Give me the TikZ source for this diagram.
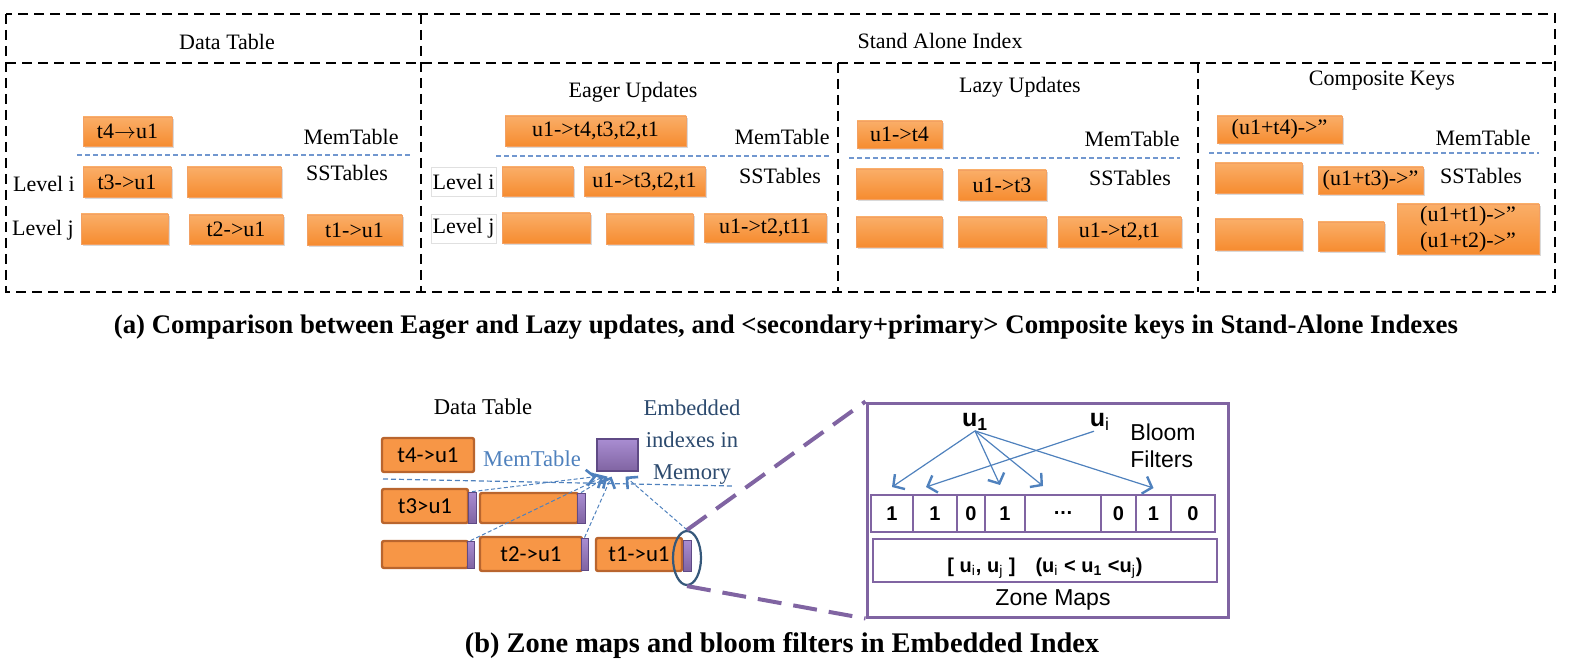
\documentclass[tikz,border=0pt]{standalone}
\usepackage{fontspec}
\setmainfont{Liberation Serif}
\newfontfamily\calib{Carlito}
\newfontfamily\arialf{Liberation Sans}
\usetikzlibrary{positioning,shapes.geometric,shadows,arrows.meta}
\definecolor{orT}{HTML}{FAAE68}
\definecolor{orB}{HTML}{F68C30}
\definecolor{orE}{HTML}{F3A062}
\definecolor{orM}{HTML}{F79646}
\definecolor{orD}{HTML}{B9652E}
\definecolor{puL}{HTML}{A98DD2}
\definecolor{puM}{HTML}{8064A2}
\definecolor{puD}{HTML}{5F4A85}
\definecolor{blueA}{HTML}{4F81BD}
\definecolor{blueL}{HTML}{7197CF}
\definecolor{slate}{HTML}{2C4A6E}
\definecolor{ellc}{HTML}{35587A}
\begin{document}
\begin{tikzpicture}[x=0.5pt,y=-0.5pt]
		\tikzstyle{frame}=[draw=black, line width=1.1pt, dash pattern=on 5pt off 3pt]
		\tikzstyle{lsm}=[inner sep=0pt, top color=orT, bottom color=orB, draw=orE, line width=0.4pt, drop shadow={shadow xshift=1.2pt, shadow yshift=-1.2pt, opacity=0.3}, font=\fontsize{11}{13}\selectfont]
		\tikzstyle{lbl}=[inner sep=0pt, font=\fontsize{11}{13}\selectfont]
		\tikzstyle{lvl}=[lbl, draw=black!12, line width=0.4pt, fill=white, minimum width=32.5pt, minimum height=14.5pt]
		\tikzstyle{memline}=[draw=blueL, line width=0.6pt, dash pattern=on 2.5pt off 1.5pt]
		\tikzstyle{run}=[inner sep=0pt, fill=orM, draw=orD, line width=1.2pt, rounded corners=1pt, font=\calib\fontsize{11.4}{13}\selectfont]
		\tikzstyle{zm}=[inner sep=0pt, top color=puL, bottom color=puM, draw=puD, line width=0.4pt]
		\tikzstyle{ptr}=[draw=blueA, line width=0.5pt, dash pattern=on 2pt off 1.2pt, -{Straight Barb[length=4pt, width=8pt, line width=1.3pt]}]
		\tikzstyle{zoomline}=[draw=puM, line width=2pt, dash pattern=on 12pt off 6pt]
		\tikzstyle{bit}=[draw=puM, line width=0.8pt, inner sep=0pt, outer sep=0pt, minimum height=18.5pt, font=\arialf\bfseries\fontsize{10}{11}\selectfont]
		\tikzstyle{bfarrow}=[draw=blueA, line width=0.6pt, -{Straight Barb[length=4pt, width=9pt, line width=1.2pt]}]
		\tikzstyle{caption}=[inner sep=0pt, font=\bfseries\fontsize{13.4}{16}\selectfont]
		\useasboundingbox (0,0) rectangle (1574,668);
		% (a) stand-alone indexes
		\draw[frame] (6,14) rectangle (1555,292);
		\draw[frame] (6,63) -- (1555,63);
		\draw[frame] (421,14) -- (421,292);
		\draw[frame] (838,63) -- (838,292);
		\draw[frame] (1198,63) -- (1198,292);
		\node [lbl] (dtitle) at (227,42) {Data Table};
		\node [lbl] (stitle) at (940,41) {Stand Alone Index};
		\node [lbl] (etitle) at (633,92) {Eager Updates};
		\node [lbl] (ltitle) at (1020,87) {Lazy Updates};
		\node [lbl] (ctitle) at (1382,81) {Composite Keys};
		% data table
		\node [lsm, minimum width=44.5pt, minimum height=14.5pt] (d4) at (127.5,131.5) {t4$\rightarrow$u1};
		\node [lsm, minimum width=44pt, minimum height=15pt] (d3) at (127,182) {t3->u1};
		\node [lsm, minimum width=47pt, minimum height=15pt] (db1) at (234,182) {};
		\node [lsm, minimum width=43.5pt, minimum height=15pt] (db2) at (124.5,229) {};
		\node [lsm, minimum width=47pt, minimum height=14.5pt] (d2) at (236,229.5) {t2->u1};
		\node [lsm, minimum width=47.5pt, minimum height=15pt] (d1) at (354.5,230) {t1->u1};
		\node [lbl] (dmem) at (351,137) {MemTable};
		\node [lbl] (dss) at (347,173) {SSTables};
		\node [lbl] (dli) at (44,184) {Level i};
		\node [lbl] (dlj) at (43,230) {Level j};
		\draw[memline] (77,155) -- (411,155);
		% eager updates
		\node [lsm, minimum width=90.5pt, minimum height=15pt] (e4) at (595.5,131) {u1->t4,t3,t2,t1};
		\node [lsm, minimum width=35.5pt, minimum height=14.5pt] (eb1) at (537.5,181.5) {};
		\node [lsm, minimum width=60.5pt, minimum height=14.5pt] (e3) at (644.5,181.5) {u1->t3,t2,t1};
		\node [lsm, minimum width=44pt, minimum height=15pt] (eb2) at (546,228) {};
		\node [lsm, minimum width=43.5pt, minimum height=15pt] (eb3) at (649.5,229) {};
		\node [lsm, minimum width=61pt, minimum height=14pt] (e2) at (765,228) {u1->t2,t11};
		\node [lvl] (eli) at (463.5,181.5) {Level i};
		\node [lvl] (elj) at (463.5,228.5) {Level j};
		\node [lbl] (emem) at (782,137) {MemTable};
		\node [lbl] (ess) at (780,176) {SSTables};
		\draw[memline] (496,156) -- (829,156);
		% lazy updates
		\node [lsm, minimum width=42.5pt, minimum height=13.5pt] (l4) at (899.5,134.5) {u1->t4};
		\node [lsm, minimum width=43pt, minimum height=15pt] (lb1) at (899,184) {};
		\node [lsm, minimum width=44pt, minimum height=15pt] (l3) at (1002,185) {u1->t3};
		\node [lsm, minimum width=43pt, minimum height=15pt] (lb2) at (899,232) {};
		\node [lsm, minimum width=44pt, minimum height=15pt] (lb3) at (1002,232) {};
		\node [lsm, minimum width=61.5pt, minimum height=15pt] (l2) at (1119.5,232) {u1->t2,t1};
		\node [lbl] (lmem) at (1132,139) {MemTable};
		\node [lbl] (lss) at (1130,178) {SSTables};
		\draw[memline] (849,158) -- (1180,158);
		% composite keys
		\node [lsm, minimum width=62.5pt, minimum height=13.5pt] (c4) at (1279.5,129.5) {(u1+t4)->”};
		\node [lsm, minimum width=43.5pt, minimum height=15pt] (cb1) at (1258.5,178) {};
		\node [lsm, minimum width=52.5pt, minimum height=13.5pt] (c3) at (1370.5,180.5) {(u1+t3)->”};
		\node [lsm, minimum width=43.5pt, minimum height=15.5pt] (cb2) at (1258.5,234.5) {};
		\node [lsm, minimum width=33pt, minimum height=14.5pt] (cb3) at (1351,236.5) {};
		\node [lsm, minimum width=71pt, minimum height=25pt, align=center] (c12) at (1468,229) {(u1+t1)->”\\(u1+t2)->”};
		\node [lbl] (cmem) at (1483,138) {MemTable};
		\node [lbl] (css) at (1481,176) {SSTables};
		\draw[memline] (1209,153) -- (1539,153);
		\node [caption] (capa) at (786,327) {(a) Comparison between Eager and Lazy updates, and <secondary+primary> Composite keys in Stand-Alone Indexes};
		% (b) embedded index
		\node [lbl, font=\fontsize{11.3}{13}\selectfont] (btitle) at (483,407) {Data Table};
		\node [run, minimum width=46pt, minimum height=17pt] (b4) at (428,455) {t4->u1};
		\node [lbl, text=blueA, font=\fontsize{11.3}{13}\selectfont] (bmem) at (532,459) {MemTable};
		\node [zm, minimum width=20.5pt, minimum height=16pt, line width=0.6pt] (sq) at (617.5,455) {};
		\node [lbl, text=slate, align=center, font=\fontsize{11.3}{16}\selectfont] (emb) at (692,442) {Embedded\\indexes in\\Memory};
		\coordinate (ml) at (383,479);
		\coordinate (mr) at (732,486);
		\draw[memline, draw=blueA] (ml) -- (mr);
		\node [run, minimum width=43pt, minimum height=17pt] (b3) at (425,506) {t3>u1};
		\node [run, minimum width=49pt, minimum height=15pt] (bb1) at (529,508) {};
		\node [run, minimum width=43pt, minimum height=13.5pt] (bb2) at (425,554.5) {};
		\node [run, minimum width=51pt, minimum height=17pt] (b2) at (531,554) {t2->u1};
		\node [run, minimum width=43pt, minimum height=16.5pt] (b1) at (639,554.5) {t1->u1};
		\node [zm, minimum width=4pt, minimum height=15.5pt] (z3) at (472,507.5) {};
		\node [zm, minimum width=4pt, minimum height=15pt] (zb1) at (581,508) {};
		\node [zm, minimum width=3.5pt, minimum height=13.5pt] (zb2) at (470.5,554.5) {};
		\node [zm, minimum width=3.5pt, minimum height=16pt] (z2) at (584.5,554) {};
		\node [zm, minimum width=4pt, minimum height=15.5pt] (z1) at (687,555.5) {};
		\node [ellipse, draw=ellc, line width=1.1pt, minimum width=14pt, minimum height=27pt, inner sep=0pt] (ell) at (687,558) {};
		\draw[ptr] (z3.north) -- ([yshift=-2.5pt]sq.south west);
		\draw[ptr] (zb1.north) -- ([xshift=-5pt,yshift=-2.5pt]sq.south);
		\draw[ptr] (zb2.north) -- ([xshift=-7pt,yshift=-2.5pt]sq.south);
		\draw[ptr] (z2.north) -- ([xshift=-3pt,yshift=-2.5pt]sq.south);
		\draw[ptr] (ell.north) -- ([xshift=4pt,yshift=-2.5pt]sq.south);
		% zoomed view
		\node [draw=puM, line width=1.5pt, minimum width=180.5pt, minimum height=107pt, inner sep=0pt] (zbox) at (1047.5,510) {};
		\draw[zoomline] (ell.north) -- (zbox.north west);
		\draw[zoomline] (ell.south) -- (zbox.south west);
		\node [bit, minimum width=21pt, anchor=west] (c1) at (871,513.5) {1};
		\node [bit, minimum width=22pt, right=0pt of c1] (c2) {1};
		\node [bit, minimum width=14pt, right=0pt of c2] (c3) {0};
		\node [bit, minimum width=20pt, right=0pt of c3] (c4) {1};
		\node [bit, minimum width=38pt, right=0pt of c4] (c5) {…};
		\node [bit, minimum width=17.5pt, right=0pt of c5] (c6) {0};
		\node [bit, minimum width=17.5pt, right=0pt of c6] (c7) {1};
		\node [bit, minimum width=22pt, right=0pt of c7] (c8) {0};
		\node [draw=puM, line width=1.2pt, minimum width=172pt, minimum height=21.5pt, inner sep=0pt] (zmap) at (1045,560.5) {};
		\node [inner sep=0pt, font=\arialf\bfseries\fontsize{10}{11}\selectfont] (zmtxt) at (1045,568) {[ u\textsubscript{\mdseries i}, u\textsubscript{\mdseries j} ]\quad(u\textsubscript{\mdseries i} < u\textsubscript{1} <u\textsubscript{\mdseries j})};
		\node [inner sep=0pt, font=\arialf\fontsize{11.5}{13}\selectfont] (zmname) at (1053,600) {Zone Maps};
		\node [inner sep=0pt, font=\arialf\bfseries\fontsize{12.5}{14}\selectfont] (uone) at (975,422) {u\textsubscript{1}};
		\node [inner sep=0pt, font=\arialf\bfseries\fontsize{12.5}{14}\selectfont] (ui) at (1100,422) {u\textsubscript{\mdseries i}};
		\node [inner sep=0pt, anchor=west, align=left, font=\arialf\fontsize{11.5}{13.5}\selectfont] (bloom) at (1130,446) {Bloom\\Filters};
		\draw[bfarrow] (uone.south) -- ([yshift=4pt]c1.north);
		\draw[bfarrow] (uone.south) -- ([xshift=-2.5pt,yshift=5pt]c4.north);
		\draw[bfarrow] (uone.south) -- ([xshift=-10pt,yshift=4.5pt]c5.north);
		\draw[bfarrow] (uone.south) -- ([yshift=3.5pt]c7.north);
		\draw[bfarrow] ([xshift=-3pt]ui.south) -- ([xshift=-4.5pt,yshift=4pt]c2.north);
		\node [caption, font=\bfseries\fontsize{14.2}{16}\selectfont] (capb) at (782,646) {(b) Zone maps and bloom filters in Embedded Index};
\end{tikzpicture}
\end{document}
